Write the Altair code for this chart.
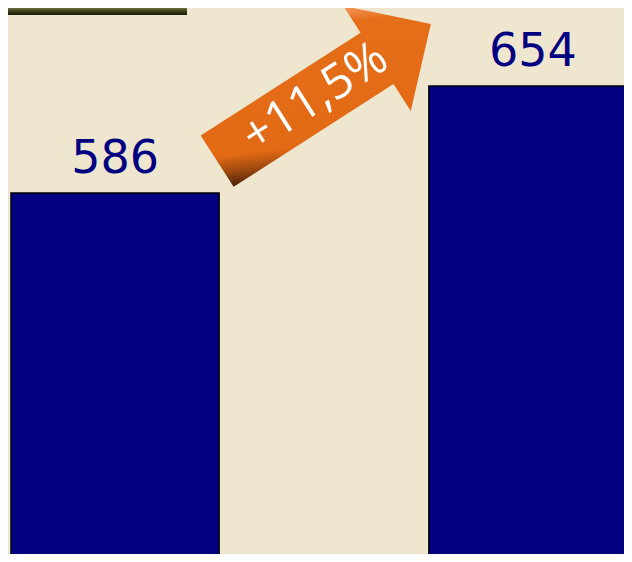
import altair as alt
import pandas as pd

# ---- data ----
categories = ["Période 1", "Période 2"]
values = [586, 654]
change_label = ["+11,5%"]

bars_df = pd.DataFrame({"periode": categories, "valeur": values})
arrow_df = pd.DataFrame({"label": change_label})
box_df = pd.DataFrame({"k": [1]})

W, H = 616, 546
BG = "#EFE6CF"
NAVY = "#000080"

x_enc = alt.X("periode:N", sort=categories, axis=None,
              scale=alt.Scale(range=[3, 629], paddingInner=0.502, paddingOuter=0))
y_scale = alt.Scale(domain=[356.6, 703.6], zero=False, nice=False)

base = alt.Chart(bars_df)

bars = base.mark_bar(color=NAVY, stroke="black", strokeWidth=1.5, clip=True).encode(
    x=x_enc,
    y=alt.Y("valeur:Q", scale=y_scale, axis=None),
    y2=alt.datum(0),
)

labels = base.mark_text(
    font="DejaVu Sans", fontSize=46, color=NAVY, baseline="alphabetic",
    align="center", dy=-20,
).encode(
    x=x_enc,
    y=alt.Y("valeur:Q", scale=y_scale, axis=None),
    text=alt.Text("valeur:Q", format="d"),
)

arrow_path = ("M -1 -0.24 L 0.496 -0.24 L 0.496 -0.492 L 1 0 "
              "L 0.496 0.492 L 0.496 0.24 L -1 0.24 Z")

arrow_fill = alt.LinearGradient(
    gradient="linear",
    x1=0, y1=1, x2=1, y2=0,
    stops=[
        alt.GradientStop(offset=0.0, color="#351402"),
        alt.GradientStop(offset=0.13, color="#4E2008"),
        alt.GradientStop(offset=0.2, color="#A04A10"),
        alt.GradientStop(offset=0.27, color="#E36A14"),
        alt.GradientStop(offset=0.80, color="#E56E18"),
        alt.GradientStop(offset=0.88, color="#F4A06A"),
        alt.GradientStop(offset=1.0, color="#FAC09A"),
    ],
)

arrow = alt.Chart(arrow_df).mark_point(
    shape=arrow_path, filled=True, size=64516, angle=327.3,
    fill=arrow_fill, strokeWidth=0, opacity=1,
).encode(x=alt.value(316), y=alt.value(84.5))

arrow_text = alt.Chart(arrow_df).mark_text(
    font="Open Sans", fontSize=48, color="white", angle=327.3,
    align="center", baseline="middle",
).encode(x=alt.value(307.5), y=alt.value(90), text="label:N")

box_fill = alt.LinearGradient(
    gradient="linear", x1=0, y1=0, x2=0, y2=1,
    stops=[
        alt.GradientStop(offset=0.0, color="#6F6F40"),
        alt.GradientStop(offset=0.5, color="#3A3A1A"),
        alt.GradientStop(offset=1.0, color="#1A1A06"),
    ],
)
box = alt.Chart(box_df).mark_rect(fill=box_fill).encode(
    x=alt.value(0), x2=alt.value(179), y=alt.value(0), y2=alt.value(7),
)

chart = alt.layer(bars, labels, arrow, arrow_text, box).properties(
    width=W, height=H, background=BG, padding=0,
    autosize=alt.AutoSizeParams(type="none"),
).configure_view(stroke=None, fill=BG)

chart.save("out.html", embed_options={"renderer": "svg", "actions": False})
